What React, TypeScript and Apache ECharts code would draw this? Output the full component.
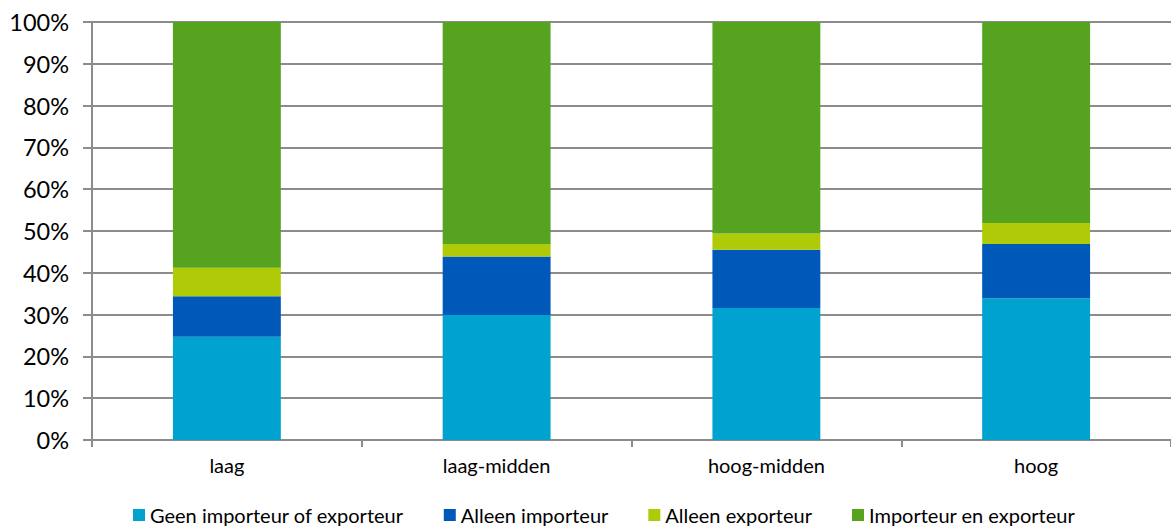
import React, { useEffect, useRef } from "react";
import * as echarts from "echarts";

// Share of firms per group (percent of total)
const categories = ["laag", "laag-midden", "hoog-midden", "hoog"];
const seriesNames = [
  "Geen importeur of exporteur",
  "Alleen importeur",
  "Alleen exporteur",
  "Importeur en exporteur",
];
const geenImportExport = [24.7, 29.9, 31.6, 33.9];
const alleenImporteur = [9.7, 14.0, 13.9, 13.0];
const alleenExporteur = [6.8, 3.0, 3.9, 5.0];
const importEnExport = [58.8, 53.1, 50.6, 48.1];
const yTicks = [0, 10, 20, 30, 40, 50, 60, 70, 80, 90, 100];

const colors = ["#00A3CF", "#0059B8", "#AFCB07", "#55A31F"];
const FONT = "Lato, 'Open Sans', sans-serif";
const AXIS_GRAY = "#8C8C8C";

export default function App() {
  const ref = useRef<HTMLDivElement>(null);

  useEffect(() => {
    if (!ref.current) return;
    const chart = echarts.init(ref.current, null, { renderer: "svg" });
    const values = [geenImportExport, alleenImporteur, alleenExporteur, importEnExport];
    chart.setOption({
      animation: false,
      textStyle: { fontFamily: FONT },
      grid: { left: 92, right: 0, top: 22, bottom: 86, containLabel: false },
      legend: {
        left: 133,
        top: 505,
        padding: 0,
        itemWidth: 12,
        itemHeight: 12,
        itemGap: 40,
        icon: "rect",
        textStyle: { fontSize: 20, color: "#000", fontFamily: FONT, lineHeight: 20 },
        data: seriesNames,
      },
      xAxis: {
        type: "category",
        data: categories,
        axisLine: { lineStyle: { color: AXIS_GRAY, width: 2 } },
        axisTick: { show: true, length: 7, alignWithLabel: false, lineStyle: { color: AXIS_GRAY, width: 2 } },
        axisLabel: { fontSize: 20, color: "#000", margin: 15, fontFamily: FONT },
      },
      yAxis: {
        type: "value",
        min: 0,
        max: 100,
        interval: 10,
        axisLine: { show: true, lineStyle: { color: AXIS_GRAY, width: 2 } },
        axisTick: { show: true, inside: false, length: 9, lineStyle: { color: AXIS_GRAY, width: 2 } },
        axisLabel: {
          fontSize: 23.5,
          color: "#000",
          margin: 23,
          fontFamily: FONT,
          formatter: (v: number) => (yTicks.includes(v) ? `${v}%` : ""),
        },
        splitLine: { show: true, lineStyle: { color: AXIS_GRAY, width: 2 } },
      },
      series: seriesNames.map((name, i) => ({
        name,
        type: "bar",
        stack: "total",
        barWidth: "40%",
        data: values[i],
        itemStyle: { color: colors[i] },
      })),
    });
    return () => chart.dispose();
  }, []);

  return (
    <div
      ref={ref}
      style={{ position: "fixed", left: 0, top: 0, width: 1171, height: 526, background: "#fff" }}
    />
  );
}
